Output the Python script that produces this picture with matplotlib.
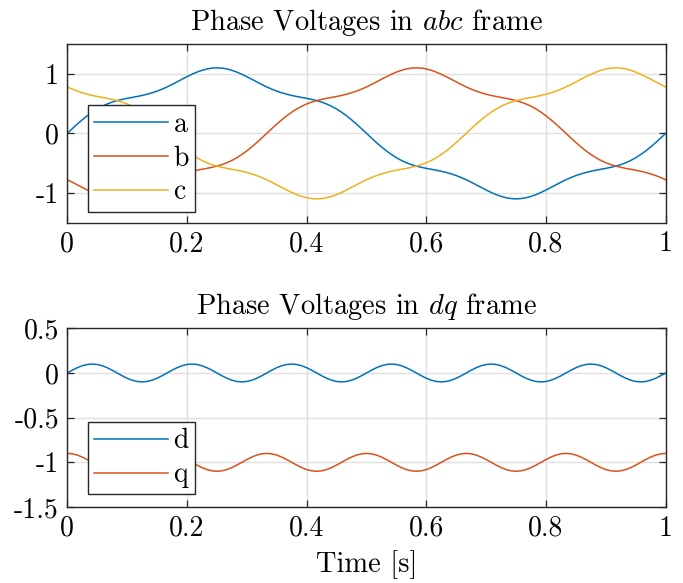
import matplotlib
matplotlib.use("Agg")
import matplotlib.pyplot as plt

# time samples (s), step 1/120
t = [k / 120 for k in range(121)]

a = [0, 0.078, 0.155, 0.227, 0.295, 0.355, 0.409, 0.455, 0.493, 0.525,
     0.55, 0.57, 0.588, 0.603, 0.619, 0.636, 0.657, 0.681, 0.709, 0.742,
     0.779, 0.82, 0.864, 0.908, 0.951, 0.992, 1.028, 1.058, 1.081, 1.095,
     1.1, 1.095, 1.081, 1.058, 1.028, 0.992, 0.951, 0.908, 0.864, 0.82,
     0.779, 0.742, 0.709, 0.681, 0.657, 0.636, 0.619, 0.603, 0.588, 0.57,
     0.55, 0.525, 0.493, 0.455, 0.409, 0.355, 0.295, 0.227, 0.155, 0.078,
     0, -0.078, -0.155, -0.227, -0.295, -0.355, -0.409, -0.455, -0.493, -0.525,
     -0.55, -0.57, -0.588, -0.603, -0.619, -0.636, -0.657, -0.681, -0.709, -0.742,
     -0.779, -0.82, -0.864, -0.908, -0.951, -0.992, -1.028, -1.058, -1.081, -1.095,
     -1.1, -1.095, -1.081, -1.058, -1.028, -0.992, -0.951, -0.908, -0.864, -0.82,
     -0.779, -0.742, -0.709, -0.681, -0.657, -0.636, -0.619, -0.603, -0.588, -0.57,
     -0.55, -0.525, -0.493, -0.455, -0.409, -0.355, -0.295, -0.227, -0.155, -0.078,
     0]

b = [-0.779, -0.82, -0.864, -0.908, -0.951, -0.992, -1.028, -1.058, -1.081, -1.095,
     -1.1, -1.095, -1.081, -1.058, -1.028, -0.992, -0.951, -0.908, -0.864, -0.82,
     -0.779, -0.742, -0.709, -0.681, -0.657, -0.636, -0.619, -0.603, -0.588, -0.57,
     -0.55, -0.525, -0.493, -0.455, -0.409, -0.355, -0.295, -0.227, -0.155, -0.078,
     0, 0.078, 0.155, 0.227, 0.295, 0.355, 0.409, 0.455, 0.493, 0.525,
     0.55, 0.57, 0.588, 0.603, 0.619, 0.636, 0.657, 0.681, 0.709, 0.742,
     0.779, 0.82, 0.864, 0.908, 0.951, 0.992, 1.028, 1.058, 1.081, 1.095,
     1.1, 1.095, 1.081, 1.058, 1.028, 0.992, 0.951, 0.908, 0.864, 0.82,
     0.779, 0.742, 0.709, 0.681, 0.657, 0.636, 0.619, 0.603, 0.588, 0.57,
     0.55, 0.525, 0.493, 0.455, 0.409, 0.355, 0.295, 0.227, 0.155, 0.078,
     0, -0.078, -0.155, -0.227, -0.295, -0.355, -0.409, -0.455, -0.493, -0.525,
     -0.55, -0.57, -0.588, -0.603, -0.619, -0.636, -0.657, -0.681, -0.709, -0.742,
     -0.779]

c = [0.779, 0.742, 0.709, 0.681, 0.657, 0.636, 0.619, 0.603, 0.588, 0.57,
     0.55, 0.525, 0.493, 0.455, 0.409, 0.355, 0.295, 0.227, 0.155, 0.078,
     0, -0.078, -0.155, -0.227, -0.295, -0.355, -0.409, -0.455, -0.493, -0.525,
     -0.55, -0.57, -0.588, -0.603, -0.619, -0.636, -0.657, -0.681, -0.709, -0.742,
     -0.779, -0.82, -0.864, -0.908, -0.951, -0.992, -1.028, -1.058, -1.081, -1.095,
     -1.1, -1.095, -1.081, -1.058, -1.028, -0.992, -0.951, -0.908, -0.864, -0.82,
     -0.779, -0.742, -0.709, -0.681, -0.657, -0.636, -0.619, -0.603, -0.588, -0.57,
     -0.55, -0.525, -0.493, -0.455, -0.409, -0.355, -0.295, -0.227, -0.155, -0.078,
     0, 0.078, 0.155, 0.227, 0.295, 0.355, 0.409, 0.455, 0.493, 0.525,
     0.55, 0.57, 0.588, 0.603, 0.619, 0.636, 0.657, 0.681, 0.709, 0.742,
     0.779, 0.82, 0.864, 0.908, 0.951, 0.992, 1.028, 1.058, 1.081, 1.095,
     1.1, 1.095, 1.081, 1.058, 1.028, 0.992, 0.951, 0.908, 0.864, 0.82,
     0.779]

# one ripple period of the dq components (20 samples), repeated over the 6 periods shown
d_period = [0, 0.031, 0.059, 0.081, 0.095, 0.1, 0.095, 0.081, 0.059, 0.031,
            0, -0.031, -0.059, -0.081, -0.095, -0.1, -0.095, -0.081, -0.059, -0.031]
q_period = [-0.9, -0.905, -0.919, -0.941, -0.969, -1.0, -1.031, -1.059, -1.081, -1.095,
            -1.1, -1.095, -1.081, -1.059, -1.031, -1.0, -0.969, -0.941, -0.919, -0.905]
d = d_period * 6 + [0]
q = q_period * 6 + [-0.9]

abc_labels = ["a", "b", "c"]
dq_labels = ["d", "q"]
xticks = [0, 0.2, 0.4, 0.6, 0.8, 1]
xticklabels = ["0", "0.2", "0.4", "0.6", "0.8", "1"]
yticks_abc = [-1, 0, 1]
yticklabels_abc = ["-1", "0", "1"]
yticks_dq = [-1.5, -1, -0.5, 0, 0.5]
yticklabels_dq = ["-1.5", "-1", "-0.5", "0", "0.5"]

colors = ["#0072BD", "#D95319", "#EDB120"]

plt.rcParams.update({
    "font.family": "serif",
    "font.serif": ["cmr10"],
    "mathtext.fontset": "cm",
    "axes.formatter.use_mathtext": False,
    "axes.unicode_minus": False,
    "font.size": 20,
})

W, H = 683, 583
fig = plt.figure(figsize=(W / 100, H / 100), dpi=100)

def make_ax(left, top, right, bottom):
    return fig.add_axes([left / W, 1 - bottom / H, (right - left) / W, (bottom - top) / H])

ax1 = make_ax(67.3, 44.0, 665.7, 222.7)
ax2 = make_ax(67.3, 328.3, 665.7, 507.0)

for ax in (ax1, ax2):
    ax.set_xlim(0, 1)
    ax.set_xticks(xticks)
    ax.set_xticklabels(xticklabels)
    ax.grid(True, color="#dfdfdf", linewidth=1.0)
    ax.set_axisbelow(True)
    ax.tick_params(direction="in", length=5, width=0.9, top=True, right=True,
                   color="#262626", labelsize=20, pad=6)
    for s in ax.spines.values():
        s.set_color("#262626")
        s.set_linewidth(1.0)

for vals, lab, col in zip([a, b, c], abc_labels, colors):
    ax1.plot(t, vals, color=col, linewidth=1.1, label=lab)
ax1.set_ylim(-1.5, 1.5)
ax1.set_yticks(yticks_abc)
ax1.set_yticklabels(yticklabels_abc)
ax1.set_title(r"Phase Voltages in $abc$ frame", fontsize=20.5, pad=10)

for vals, lab, col in zip([d, q], dq_labels, colors):
    ax2.plot(t, vals, color=col, linewidth=1.1, label=lab)
ax2.set_ylim(-1.5, 0.5)
ax2.set_yticks(yticks_dq)
ax2.set_yticklabels(yticklabels_dq)
ax2.set_title(r"Phase Voltages in $dq$ frame", fontsize=20.5, pad=10)
ax2.set_xlabel("Time [s]", fontsize=20.5, labelpad=6)

for ax, (l, tp) in ((ax1, (88.3, 105.3)), (ax2, (88.3, 422.0))):
    leg = ax.legend(loc="upper left",
                    bbox_to_anchor=(l / W, 1 - tp / H), bbox_transform=fig.transFigure,
                    fancybox=False, framealpha=1, edgecolor="#262626", fontsize=20,
                    handlelength=2.65, borderpad=0.22, labelspacing=0.27, handletextpad=0.2,
                    borderaxespad=0)
    leg.get_frame().set_linewidth(1.0)

fig.savefig("out.png", dpi=100)
